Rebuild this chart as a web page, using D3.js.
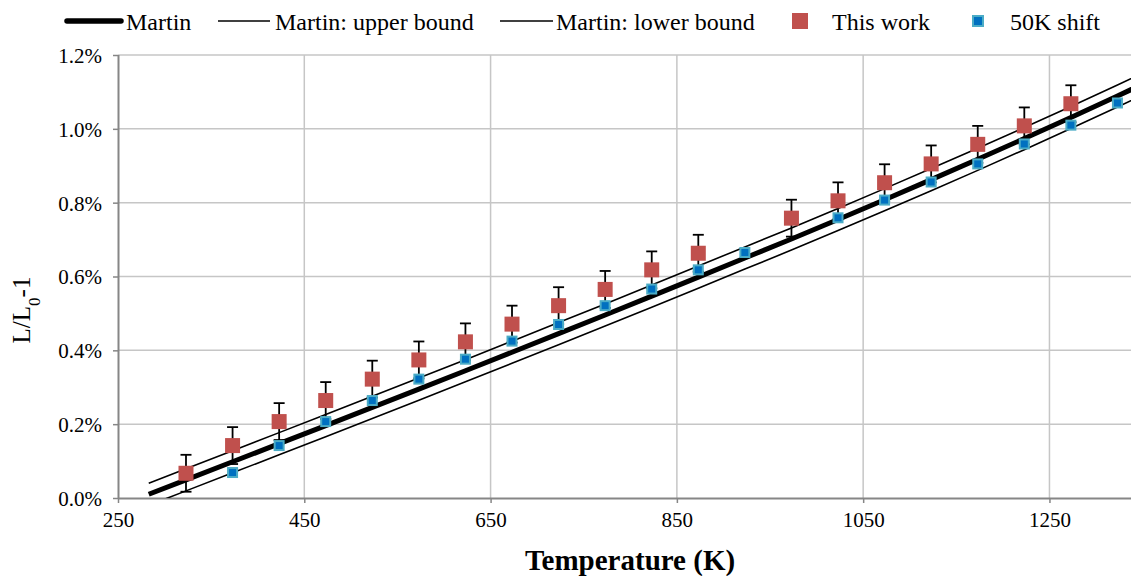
<!DOCTYPE html>
<html>
<head>
<meta charset="utf-8">
<script src="https://cdn.jsdelivr.net/npm/d3@7"></script>
<style>
  html, body { margin: 0; padding: 0; background: #fff; }
  svg { display: block; font-family: "Liberation Serif", "Times New Roman", serif; }
  svg text { font-family: "Liberation Serif", "Times New Roman", serif; }
</style>
</head>
<body>
<svg id="chart" width="1131" height="576"></svg>
<script>
// ---- data ----
const xTicks = [250, 450, 650, 850, 1050, 1250];
const yTicks = [0, 0.2, 0.4, 0.6, 0.8, 1.0, 1.2];

const martinT     = [283, 323, 373, 423, 473, 523, 573, 623, 673, 723, 773, 823, 873, 923, 973, 1023, 1073, 1123, 1173, 1223, 1273, 1323, 1373];
const martin      = [0.0102, 0.0493, 0.0981, 0.1471, 0.1962, 0.2455, 0.2950, 0.3448, 0.3948, 0.4451, 0.4958, 0.5469, 0.5983, 0.6502, 0.7015, 0.7544, 0.8080, 0.8623, 0.9175, 0.9736, 1.0307, 1.0889, 1.1484];
const martinUpper = [0.0402, 0.0793, 0.1281, 0.1771, 0.2262, 0.2755, 0.3250, 0.3748, 0.4248, 0.4751, 0.5258, 0.5769, 0.6283, 0.6802, 0.7315, 0.7844, 0.8380, 0.8923, 0.9475, 1.0036, 1.0607, 1.1189, 1.1784];
const martinLower = [-0.0198, 0.0193, 0.0681, 0.1171, 0.1662, 0.2155, 0.2650, 0.3148, 0.3648, 0.4151, 0.4658, 0.5169, 0.5683, 0.6202, 0.6715, 0.7244, 0.7780, 0.8323, 0.8875, 0.9436, 1.0007, 1.0589, 1.1184];

const workT   = [323, 373, 423, 473, 523, 573, 623, 673, 723, 773, 823, 873, 973, 1023, 1073, 1123, 1173, 1223, 1273];
const workV   = [0.067, 0.142, 0.207, 0.264, 0.322, 0.374, 0.423, 0.471, 0.521, 0.565, 0.618, 0.663, 0.758, 0.805, 0.854, 0.905, 0.958, 1.008, 1.068];
const workErr = [0.05, 0.05, 0.05, 0.05, 0.05, 0.05, 0.05, 0.05, 0.05, 0.05, 0.05, 0.05, 0.05, 0.05, 0.05, 0.05, 0.05, 0.05, 0.05];

const shiftT = [373, 423, 473, 523, 573, 623, 673, 723, 773, 823, 873, 923, 1023, 1073, 1123, 1173, 1223, 1273, 1323];
const shiftV = [0.069, 0.142, 0.207, 0.264, 0.322, 0.376, 0.425, 0.470, 0.521, 0.566, 0.618, 0.665, 0.759, 0.807, 0.856, 0.905, 0.959, 1.010, 1.070];

const legendItems = ["Martin", "Martin: upper bound", "Martin: lower bound", "This work", "50K shift"];

// ---- layout ----
const FONT = '"Liberation Serif", "Times New Roman", serif';
const svg = d3.select("#chart");
const pLeft = 118, pRight = 1142.6, pTop = 55, pBottom = 498;
const x = d3.scaleLinear().domain([250, 1350]).range([pLeft, pRight]);
const y = d3.scaleLinear().domain([0, 1.2]).range([pBottom, pTop]);

const gridColor = "#c6c6c6";
const axisColor = "#868686";
const red = "#C0504D";
const blueFill = "#0070C0";
const blueStroke = "#4BACC6";

svg.append("defs").append("clipPath").attr("id", "plotclip")
  .append("rect").attr("x", pLeft).attr("y", pTop - 1).attr("width", pRight - pLeft).attr("height", pBottom - pTop + 1);

// gridlines
const grid = svg.append("g");
grid.selectAll("line.h").data(yTicks.filter(d => d > 0)).join("line")
  .attr("x1", pLeft).attr("x2", 1131).attr("y1", d => y(d)).attr("y2", d => y(d))
  .attr("stroke", gridColor).attr("stroke-width", 1.5);
grid.selectAll("line.v").data(xTicks.filter(d => d > 250)).join("line")
  .attr("x1", d => x(d)).attr("x2", d => x(d)).attr("y1", pTop).attr("y2", pBottom)
  .attr("stroke", gridColor).attr("stroke-width", 1.5);

// axes
const yAxis = d3.axisLeft(y).tickValues(yTicks).tickSize(5).tickFormat(d => d3.format(".1%")(d / 100));
const gy = svg.append("g").attr("transform", `translate(${pLeft},0)`).call(yAxis);
const xAxis = d3.axisBottom(x).tickValues(xTicks).tickSize(5).tickFormat(d3.format("d"));
const gx = svg.append("g").attr("transform", `translate(0,${pBottom})`).call(xAxis);
[gx, gy].forEach(g => {
  g.attr("font-family", FONT).attr("font-size", 21);
  g.select(".domain").attr("stroke", axisColor).attr("stroke-width", 2);
  g.selectAll(".tick line").attr("stroke", axisColor).attr("stroke-width", 1.5);
  g.selectAll(".tick text").attr("fill", "#000").attr("font-family", FONT).attr("font-size", 21);
});
gx.select(".domain").attr("d", `M${pLeft},0.5H1131`);
gy.select(".domain").attr("d", `M0.5,${pBottom}V${pTop}`);
gy.selectAll(".tick text").attr("x", -16).attr("dy", "0.35em");
gx.selectAll(".tick text").attr("y", 14).attr("dy", "0.71em");

// Martin lines
const lineGen = d3.line().x(d => x(d[0])).y(d => y(d[1]));
const plot = svg.append("g").attr("clip-path", "url(#plotclip)");
plot.append("path").datum(martinT.map((t, i) => [t, martinUpper[i]]))
  .attr("d", lineGen).attr("fill", "none").attr("stroke", "#000").attr("stroke-width", 1.6);
plot.append("path").datum(martinT.map((t, i) => [t, martinLower[i]]))
  .attr("d", lineGen).attr("fill", "none").attr("stroke", "#000").attr("stroke-width", 1.6);
plot.append("path").datum(martinT.map((t, i) => [t, martin[i]]))
  .attr("d", lineGen).attr("fill", "none").attr("stroke", "#000").attr("stroke-width", 5);

// error bars for "This work"
const work = workT.map((t, i) => ({ t, v: workV[i], e: workErr[i] }));
const eb = svg.append("g").attr("stroke", "#000").attr("stroke-width", 1.8);
eb.selectAll("line.bar").data(work).join("line")
  .attr("x1", d => x(d.t)).attr("x2", d => x(d.t))
  .attr("y1", d => y(d.v - d.e)).attr("y2", d => y(d.v + d.e));
eb.selectAll("line.capTop").data(work).join("line")
  .attr("x1", d => x(d.t) - 5.5).attr("x2", d => x(d.t) + 5.5)
  .attr("y1", d => y(d.v + d.e)).attr("y2", d => y(d.v + d.e));
eb.selectAll("line.capBot").data(work).join("line")
  .attr("x1", d => x(d.t) - 5.5).attr("x2", d => x(d.t) + 5.5)
  .attr("y1", d => y(d.v - d.e)).attr("y2", d => y(d.v - d.e));

// red squares
const rs = 15;
svg.append("g").selectAll("rect").data(work).join("rect")
  .attr("x", d => x(d.t) - rs / 2).attr("y", d => y(d.v) - rs / 2)
  .attr("width", rs).attr("height", rs).attr("fill", red);

// blue squares
const bs = 9;
const shift = shiftT.map((t, i) => ({ t, v: shiftV[i] }));
svg.append("g").selectAll("rect").data(shift).join("rect")
  .attr("x", d => x(d.t) - bs / 2).attr("y", d => y(d.v) - bs / 2)
  .attr("width", bs).attr("height", bs).attr("fill", blueFill)
  .attr("stroke", blueStroke).attr("stroke-width", 2);

// axis titles
svg.append("text").attr("x", 630).attr("y", 570).attr("text-anchor", "middle")
  .attr("font-family", FONT).attr("font-size", 29).attr("font-weight", "bold").text("Temperature (K)");
const yt = svg.append("text").attr("transform", "translate(30,310) rotate(-90)")
  .attr("text-anchor", "middle").attr("font-family", FONT).attr("font-size", 25);
yt.append("tspan").text("L/L");
yt.append("tspan").attr("baseline-shift", "sub").attr("font-size", 17).text("0");
yt.append("tspan").text("-1");

// legend
const lg = svg.append("g").attr("font-family", FONT).attr("font-size", 24);
const legY = 21, txtY = 30;
lg.append("line").attr("x1", 67).attr("x2", 121).attr("y1", legY).attr("y2", legY).attr("stroke", "#000").attr("stroke-width", 5.5).attr("stroke-linecap", "round");
lg.append("text").attr("x", 126).attr("y", txtY).text(legendItems[0]);
lg.append("line").attr("x1", 218).attr("x2", 270).attr("y1", legY).attr("y2", legY).attr("stroke", "#000").attr("stroke-width", 1.6);
lg.append("text").attr("x", 275).attr("y", txtY).text(legendItems[1]);
lg.append("line").attr("x1", 500).attr("x2", 553).attr("y1", legY).attr("y2", legY).attr("stroke", "#000").attr("stroke-width", 1.6);
lg.append("text").attr("x", 556).attr("y", txtY).text(legendItems[2]);
lg.append("rect").attr("x", 792).attr("y", legY - 8).attr("width", 16).attr("height", 16).attr("fill", red);
lg.append("text").attr("x", 832).attr("y", txtY).text(legendItems[3]);
lg.append("rect").attr("x", 973).attr("y", legY - 5).attr("width", 10).attr("height", 10).attr("fill", blueFill).attr("stroke", blueStroke).attr("stroke-width", 2);
lg.append("text").attr("x", 1010).attr("y", txtY).text(legendItems[4]);
</script>
</body>
</html>
